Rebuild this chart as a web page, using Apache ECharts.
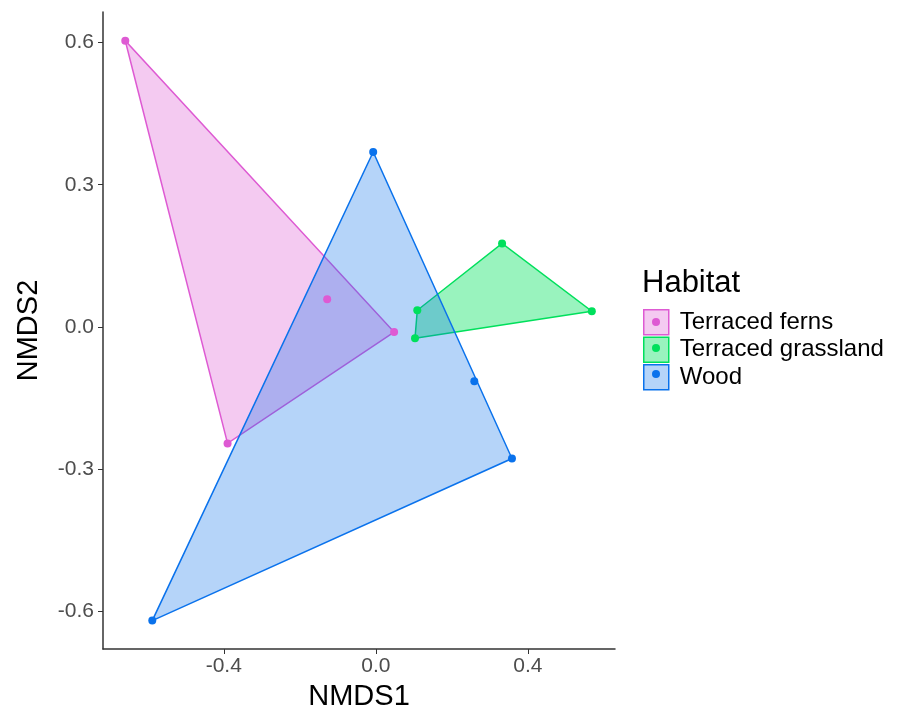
<!DOCTYPE html>
<html>
<head>
<meta charset="utf-8">
<script src="https://cdn.jsdelivr.net/npm/echarts@6/dist/echarts.min.js"></script>
<style>html,body{margin:0;padding:0;background:#fff}#c{width:905px;height:711px}</style>
</head>
<body>
<div id="c"></div>
<script>
var groups = ['Terraced ferns', 'Terraced grassland', 'Wood'];
var colors = ['#DE5AD3', '#00E05C', '#0A72EC'];
var fillColors = ['rgba(222,90,211,0.32)', 'rgba(0,224,92,0.40)', 'rgba(10,114,236,0.30)'];
var fernsX = [-0.659, -0.128, 0.048, -0.390];
var fernsY = [0.604, 0.058, -0.011, -0.246];
var grassX = [0.332, 0.568, 0.109, 0.103];
var grassY = [0.176, 0.033, 0.035, -0.024];
var woodX = [-0.007, 0.259, 0.358, -0.588];
var woodY = [0.369, -0.115, -0.278, -0.620];
var xTicks = [-0.4, 0.0, 0.4];
var yTicks = [-0.6, -0.3, 0.0, 0.3, 0.6];

function pts(xs, ys) { return xs.map(function (x, i) { return [x, ys[i]]; }); }
var groupPts = [pts(fernsX, fernsY), pts(grassX, grassY), pts(woodX, woodY)];

function hull(p) {
  var a = p.slice().sort(function (u, v) { return u[0] - v[0] || u[1] - v[1]; });
  function cross(o, u, v) { return (u[0] - o[0]) * (v[1] - o[1]) - (u[1] - o[1]) * (v[0] - o[0]); }
  var lo = [], up = [];
  a.forEach(function (q) { while (lo.length >= 2 && cross(lo[lo.length - 2], lo[lo.length - 1], q) <= 0) lo.pop(); lo.push(q); });
  a.slice().reverse().forEach(function (q) { while (up.length >= 2 && cross(up[up.length - 2], up[up.length - 1], q) <= 0) up.pop(); up.push(q); });
  lo.pop(); up.pop();
  return lo.concat(up);
}
var hulls = groupPts.map(hull);

var series = [];
groups.forEach(function (g, gi) {
  series.push({
    name: g, type: 'custom', z: 2,
    data: hulls[gi],
    itemStyle: { color: fillColors[gi], borderColor: colors[gi], borderWidth: 1 },
    renderItem: function (params, api) {
      if (params.dataIndex !== 0) return null;
      var poly = hulls[gi].map(function (q) { return api.coord(q); });
      return { type: 'polygon', shape: { points: poly },
        style: { fill: fillColors[gi], stroke: colors[gi], lineWidth: 1.5 } };
    },
    silent: true
  });
});
groups.forEach(function (g, gi) {
  series.push({
    name: g + ' pts', type: 'scatter', z: 5, symbolSize: 8,
    data: groupPts[gi], itemStyle: { color: colors[gi], opacity: 1 }, silent: true
  });
});

var chart = echarts.init(document.getElementById('c'), null, { renderer: 'canvas' });
chart.setOption({
  animation: false,
  backgroundColor: '#fff',
  grid: { left: 103, right: 290, top: 12, bottom: 62, containLabel: false, outerBoundsMode: 'none' },
  xAxis: {
    type: 'value', min: -0.7176, max: 0.629,
    name: 'NMDS1', nameLocation: 'middle', nameGap: 33,
    nameTextStyle: { color: '#000', fontSize: 29, fontFamily: 'Liberation Sans' },
    axisLine: { show: true, onZero: false, lineStyle: { color: '#333', width: 1.5 } },
    axisTick: { show: true, length: 5, lineStyle: { color: '#333' }, customValues: xTicks },
    axisLabel: { color: '#4d4d4d', fontSize: 21, fontFamily: 'Liberation Sans', margin: 7,
      customValues: xTicks, formatter: function (v) { return v.toFixed(1); } },
    splitLine: { show: false }
  },
  yAxis: {
    type: 'value', min: -0.680, max: 0.6646,
    name: 'NMDS2', nameLocation: 'middle', nameGap: 60, nameRotate: 90,
    nameTextStyle: { color: '#000', fontSize: 29, fontFamily: 'Liberation Sans' },
    axisLine: { show: true, onZero: false, lineStyle: { color: '#333', width: 1.5 } },
    axisTick: { show: true, length: 5, lineStyle: { color: '#333' }, customValues: yTicks },
    axisLabel: { color: '#4d4d4d', fontSize: 21, fontFamily: 'Liberation Sans', margin: 9,
      customValues: yTicks, formatter: function (v) { return v.toFixed(1); } },
    splitLine: { show: false }
  },
  title: { text: 'Habitat', left: 642, top: 268, padding: 0,
    textStyle: { color: '#000', fontSize: 31, fontWeight: 'normal', fontFamily: 'Liberation Sans' } },
  legend: {
    data: groups.map(function (g, gi) {
      return { name: g, icon: 'rect', itemStyle: { color: fillColors[gi], borderColor: colors[gi], borderWidth: 1.5 } };
    }),
    orient: 'vertical', left: 643, top: 309, itemWidth: 25, itemHeight: 25, itemGap: 1,
    padding: 0, selectedMode: false,
    textStyle: { color: '#000', fontSize: 24, fontFamily: 'Liberation Sans', padding: [0, 0, 0, 6] }
  },
  graphic: groups.map(function (g, gi) {
    return { type: 'circle', left: 652, top: 318 + gi * 26, z: 100,
      shape: { r: 4 }, style: { fill: colors[gi] } };
  }),
  series: series
});
</script>
</body>
</html>
